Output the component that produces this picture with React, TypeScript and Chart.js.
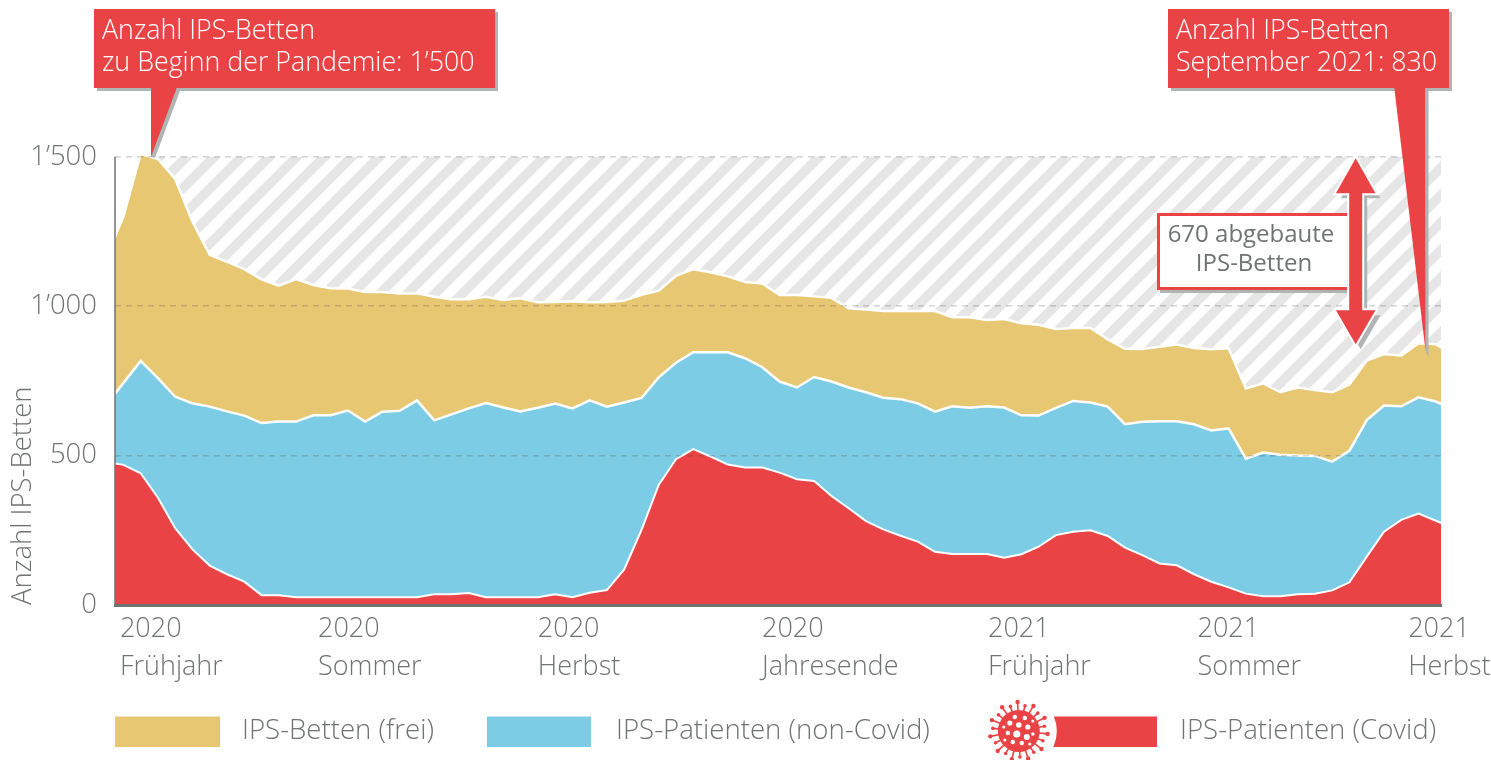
import React, { useEffect, useRef } from "react";
import { Chart, registerables } from "chart.js";

Chart.register(...registerables);

const covid = [479,469,441,359,257,186,132,103,78,33,33,26,26,26,26,26,26,26,26,36,36,40,26,26,26,26,36,26,41,50,119,251,402,488,522,497,470,460,460,443,421,415,365,324,281,253,232,212,178,171,171,171,158,170,195,234,245,250,231,192,167,139,133,103,78,59,38,29,29,36,38,49,76,162,245,285,306,282,259];
const allPatients = [668,743,817,759,697,675,664,648,634,609,614,614,635,635,651,614,647,650,685,618,638,658,676,661,648,660,674,658,685,664,678,693,762,811,846,846,846,826,796,748,728,763,748,728,712,694,689,675,647,665,660,665,661,635,634,660,683,678,664,605,613,615,615,605,584,591,490,510,503,500,499,480,517,619,668,665,695,681,654];
const allBeds = [1162,1300,1510,1493,1426,1283,1172,1149,1124,1090,1069,1091,1071,1060,1059,1048,1048,1043,1043,1032,1023,1023,1032,1021,1027,1013,1014,1017,1013,1014,1019,1038,1052,1102,1124,1114,1100,1081,1076,1038,1038,1033,1028,993,989,984,984,984,984,963,963,954,957,943,938,924,927,927,889,858,857,864,872,860,856,859,725,742,712,728,720,712,738,818,840,835,876,873,836];
const capacity = [null,null,1500,1500,1500,1500,1500,1500,1500,1500,1500,1500,1500,1500,1500,1500,1500,1500,1500,1500,1500,1500,1500,1500,1500,1500,1500,1500,1500,1500,1500,1500,1500,1500,1500,1500,1500,1500,1500,1500,1500,1500,1500,1500,1500,1500,1500,1500,1500,1500,1500,1500,1500,1500,1500,1500,1500,1500,1500,1500,1500,1500,1500,1500,1500,1500,1500,1500,1500,1500,1500,1500,1500,1500,1500,1500,1500,1500,1500];

const xTickWeeks = [0.8, 12.27, 25.0, 37.98, 51.07, 63.2, 75.4];
const xTickLabels = [["2020","Frühjahr"],["2020","Sommer"],["2020","Herbst"],["2020","Jahresende"],["2021","Frühjahr"],["2021","Sommer"],["2021","Herbst"]];
const yTickValues = [0, 500, 1000, 1500];
const yTickLabels = ["0", "500", "1’000", "1’500"];

const RED = "#ea4345", BLUE = "#7dcce6", YELLOW = "#e8c772", TEXT = "#6f7372", SHADOW = "#b0b4b3";
const FONT = "'Open Sans'";

function points(values: (number | null)[]) {
  return values.map((y, x) => ({ x, y }));
}

function hatch(): CanvasPattern {
  const tile = document.createElement("canvas");
  tile.width = 55;
  tile.height = 55;
  const c = tile.getContext("2d")!;
  c.strokeStyle = "#e6e6e6";
  c.lineWidth = 9.7;
  for (let n = -1; n < 6; n++) {
    const off = 13.5 + 27.5 * n;
    c.beginPath();
    c.moveTo(off + 20, -20);
    c.lineTo(-20, off + 20);
    c.stroke();
  }
  return c.createPattern(tile, "repeat")!;
}

function poly(ctx: CanvasRenderingContext2D, pts: number[][], fill?: string) {
  ctx.beginPath();
  pts.forEach(([x, y], i) => (i ? ctx.lineTo(x, y) : ctx.moveTo(x, y)));
  ctx.closePath();
  if (fill) {
    ctx.fillStyle = fill;
    ctx.fill();
  }
}

function drawVirus(ctx: CanvasRenderingContext2D, cx: number, cy: number) {
  ctx.save();
  ctx.fillStyle = "#fff";
  ctx.beginPath();
  ctx.arc(cx, cy, 38, 0, Math.PI * 2);
  ctx.fill();
  ctx.fillStyle = RED;
  ctx.strokeStyle = RED;
  ctx.lineWidth = 1.6;
  for (let i = 0; i < 22; i++) {
    const a = (i / 22) * Math.PI * 2 + 0.1;
    const r = i % 2 ? 26 : 29;
    ctx.beginPath();
    ctx.moveTo(cx + Math.cos(a) * 18, cy + Math.sin(a) * 18);
    ctx.lineTo(cx + Math.cos(a) * r, cy + Math.sin(a) * r);
    ctx.stroke();
    ctx.beginPath();
    ctx.arc(cx + Math.cos(a) * r, cy + Math.sin(a) * r, i % 2 ? 1.8 : 2.2, 0, Math.PI * 2);
    ctx.fill();
  }
  ctx.beginPath();
  ctx.arc(cx, cy, 21, 0, Math.PI * 2);
  ctx.fill();
  ctx.fillStyle = "#fff";
  const holes = [[-2,3,3.6],[0,-6,2.8],[-9,-8,2.6],[9,-4,2.6],[-11,2,2.2],[8,6,3],[-6,11,2.2],[3,12,2.2],[-4,-14,2.2],[6,-13,2.2],[14,3,1.8],[-15,-4,1.6],[14,-10,1.6],[-14,9,1.6],[11,13,1.6]];
  holes.forEach(([dx, dy, r]) => {
    ctx.beginPath();
    ctx.arc(cx + dx, cy + dy, r, 0, Math.PI * 2);
    ctx.fill();
  });
  ctx.restore();
}

function callout(ctx: CanvasRenderingContext2D, box: number[], ptr: number[][], ptrShadow: number[][], lines: string[]) {
  const [x, y, w, h] = box;
  ctx.fillStyle = SHADOW;
  ctx.fillRect(x + 3, y + 3, w, h);
  poly(ctx, ptrShadow, SHADOW);
  ctx.fillStyle = RED;
  ctx.fillRect(x, y, w, h);
  poly(ctx, ptr, RED);
  ctx.fillStyle = "#fff";
  ctx.font = `300 26.8px ${FONT}`;
  ctx.textAlign = "left";
  ctx.textBaseline = "middle";
  lines.forEach((t, i) => ctx.fillText(t, x + 8, y + 22 + i * 32));
}

const decorations = {
  id: "decorations",
  afterDraw(chart: any) {
    const { ctx } = chart;
    const xs = chart.scales.x, ys = chart.scales.y;
    ctx.save();
    // y axis line
    ctx.strokeStyle = TEXT;
    ctx.lineWidth = 1.5;
    ctx.beginPath();
    ctx.moveTo(xs.left, ys.getPixelForValue(1500));
    ctx.lineTo(xs.left, ys.getPixelForValue(0));
    ctx.stroke();

    const top = ys.getPixelForValue(1500);
    // left callout
    const tipL = xs.getPixelForValue(2.6);
    callout(ctx, [94, 9, 401, 79],
      [[tipL, 88], [176.7, 88], [tipL, top]],
      [[tipL + 10, 91], [180, 91], [tipL + 4, top + 1], [tipL, top]],
      ["Anzahl IPS-Betten", "zu Beginn der Pandemie: 1’500"]);
    // right callout
    const tipR = xs.getPixelForValue(76.4);
    const tipY = ys.getPixelForValue(853);
    callout(ctx, [1168, 9, 281, 79],
      [[1394.3, 88], [1425, 88], [tipR, tipY]],
      [[1422, 91], [1428.5, 91], [1428.5, tipY + 7], [tipR, tipY]],
      ["Anzahl IPS-Betten", "September 2021: 830"]);

    // label box
    ctx.fillStyle = SHADOW;
    ctx.fillRect(1160, 216, 190, 77);
    ctx.fillStyle = RED;
    ctx.fillRect(1157, 213, 190, 77);
    ctx.fillStyle = "#fff";
    ctx.fillRect(1160, 216, 187, 71);
    ctx.fillStyle = TEXT;
    ctx.font = `400 24px ${FONT}`;
    ctx.textAlign = "center";
    ctx.textBaseline = "middle";
    ctx.fillText("670 abgebaute", 1251, 235);
    ctx.fillText("IPS-Betten", 1254, 264);

    // double arrow
    const ax = 1355.7, aT = ys.getPixelForValue(1495), aB = ys.getPixelForValue(873);
    const arrow = (dx: number, dy: number) => [
      [ax + dx, aT + dy], [ax + 19.8 + dx, aT + 35 + dy], [ax + 6.5 + dx, aT + 35 + dy],
      [ax + 6.5 + dx, aB - 34 + dy], [ax + 19.8 + dx, aB - 34 + dy], [ax + dx, aB + dy],
      [ax - 19.8 + dx, aB - 34 + dy], [ax - 6.5 + dx, aB - 34 + dy], [ax - 6.5 + dx, aT + 35 + dy],
      [ax - 19.8 + dx, aT + 35 + dy],
    ];
    poly(ctx, arrow(5, 5), SHADOW);
    poly(ctx, arrow(0, 0));
    ctx.strokeStyle = "#fff";
    ctx.lineWidth = 4;
    ctx.lineJoin = "miter";
    ctx.stroke();
    poly(ctx, arrow(0, 0), RED);

    // legend
    const legend = [
      { ds: 2, x: 115, w: 105, tx: 242 },
      { ds: 1, x: 487, w: 104, tx: 616 },
      { ds: 0, x: 1040, w: 117, tx: 1180 },
    ];
    ctx.textAlign = "left";
    ctx.textBaseline = "middle";
    legend.forEach((l) => {
      const d = chart.data.datasets[l.ds];
      ctx.fillStyle = d.backgroundColor;
      ctx.fillRect(l.x, 716.5, l.w, 30.5);
      if (l.ds === 0) drawVirus(ctx, 1018.8, 731);
      ctx.fillStyle = TEXT;
      ctx.font = `300 27.6px ${FONT}`;
      ctx.fillText(d.label, l.tx, 731);
    });
    ctx.restore();
  },
};

export default function App() {
  const ref = useRef<HTMLCanvasElement>(null);
  useEffect(() => {
    const area = (label: string, values: (number | null)[], color: any, width: number) => ({
      label,
      data: points(values),
      backgroundColor: color,
      borderColor: "#fff",
      borderWidth: width,
      pointRadius: 0,
      tension: 0,
      fill: "origin",
    });
    const chart = new Chart(ref.current!, {
      type: "line",
      data: {
        datasets: [
          area("IPS-Patienten (Covid)", covid, RED, 2),
          area("IPS-Patienten (non-Covid)", allPatients, BLUE, 2.5),
          area("IPS-Betten (frei)", allBeds, YELLOW, 2.5),
          { ...area("Abgebaute IPS-Betten", capacity, hatch(), 0), borderColor: "transparent" },
        ],
      },
      options: {
        responsive: false,
        animation: false,
        events: [],
        layout: { padding: { left: 0, right: 50, top: 0, bottom: 0 } },
        plugins: { legend: { display: false }, tooltip: { enabled: false } },
        scales: {
          x: {
            type: "linear",
            min: 0.514,
            max: 77.3,
            afterBuildTicks(axis: any) {
              axis.ticks = xTickWeeks.map((value) => ({ value }));
            },
            afterFit(axis: any) {
              axis.height = 155;
              axis.paddingLeft = 0;
              axis.paddingRight = 0;
            },
            grid: { display: false, drawTicks: false },
            border: { display: true, color: TEXT, width: 3, z: 2 },
            ticks: {
              autoSkip: false,
              maxRotation: 0,
              minRotation: 0,
              align: "start",
              padding: 5,
              color: TEXT,
              font: { family: FONT, weight: "300", size: 27, lineHeight: 1.407 },
              callback: (_v: any, i: number) => xTickLabels[i],
            },
          },
          y: {
            type: "linear",
            min: 0,
            max: 2025,
            afterBuildTicks(axis: any) {
              axis.ticks = yTickValues.map((value) => ({ value }));
            },
            afterFit(axis: any) {
              axis.width = 115;
              axis.paddingTop = 0;
              axis.paddingBottom = 0;
            },
            grid: {
              z: 1,
              drawTicks: false,
              color: (c: any) => (c.tick.value === 0 ? "transparent" : "rgba(60,60,60,0.22)"),
              lineWidth: 1.5,
            },
            border: { display: false, dash: [6, 5] },
            title: {
              display: true,
              text: "Anzahl IPS-Betten",
              align: "start",
              color: TEXT,
              font: { family: FONT, weight: "300", size: 27.5 },
              padding: { top: 7, bottom: 0 },
            },
            ticks: {
              padding: 18,
              color: TEXT,
              font: { family: FONT, weight: "300", size: 27.5 },
              callback: (_v: any, i: number) => yTickLabels[i],
            },
          },
        },
      },
      plugins: [decorations],
    } as any);
    return () => chart.destroy();
  }, []);
  return (
    <div style={{ position: "absolute", left: 0, top: 0, width: 1491, height: 760, background: "#fff" }}>
      <canvas ref={ref} width={1491} height={760} style={{ display: "block" }} />
    </div>
  );
}
